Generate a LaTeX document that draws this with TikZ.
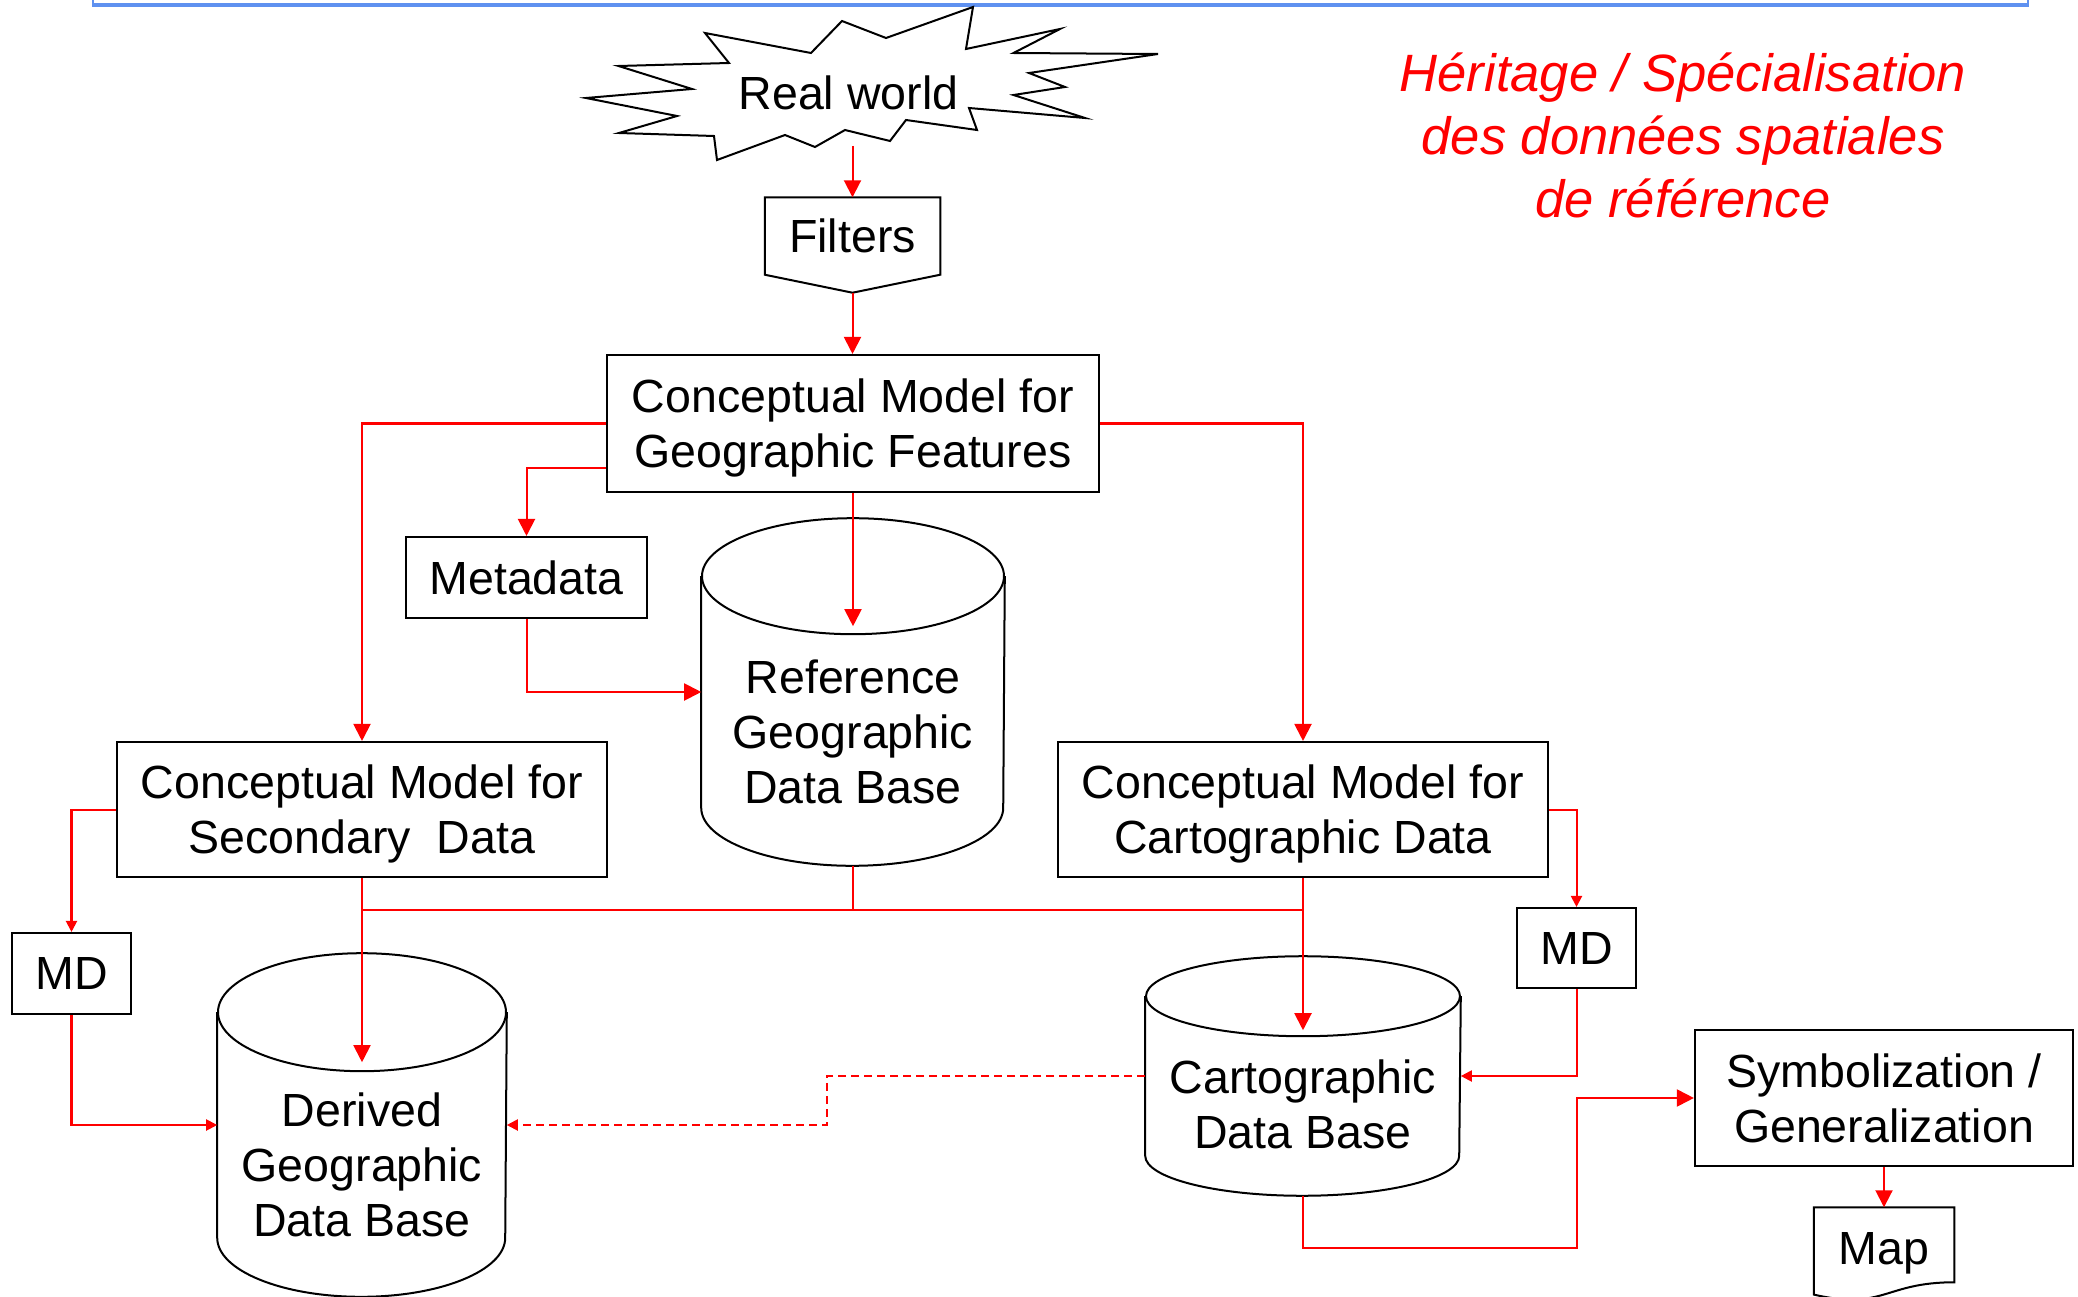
\documentclass[tikz,border=0pt]{standalone}
\usepackage{fontspec}
\setmainfont{Liberation Sans}
\usetikzlibrary{arrows.meta,calc}
\definecolor{frameblue}{RGB}{95,145,240}
\definecolor{linkred}{RGB}{255,0,0}
\newcommand\mycyl[3]{%
  \draw[oline] ($(#1.north)+(0,#3)$) ellipse [x radius=#2, y radius=#3];
  \draw[oline] ($(#1.north west)+(0,#3)$) -- ($(#1.south west)+(0,-#3)$) arc[start angle=180, end angle=0, x radius=#2, y radius=#3] -- ($(#1.north east)+(0,#3)$);}
\begin{document}
\begin{tikzpicture}[x=0.01cm,y=-0.01cm,
  oline/.style={draw=black,line width=0.02cm},
  boxtext/.style={font=\fontsize{13.23pt}{15.65pt}\selectfont, align=center, inner sep=0pt, text depth=0pt},
  cbox/.style={boxtext, oline, fill=white},
  cline/.style={draw=linkred, line width=0.02cm},
  arrbig/.style={cline, -{Triangle[length=0.17cm,width=0.17cm]}},
  arrsmall/.style={cline, -{Triangle[length=0.11cm,width=0.11cm]}},
]
\fill[white] (0,0) rectangle (2078,1297);
\useasboundingbox (0,0) rectangle (2078,1297);

% top frame edge
\draw[frameblue, line width=0.012cm] (93,0) -- (93,5) (2028,0) -- (2028,5);
\draw[frameblue, line width=0.035cm] (92,5) -- (2029,5);

% star
\draw[oline, fill=white] (973,7) -- (966,49) -- (1060,29) -- (1013.5,53) -- (1158,54) -- (1029,73) -- (1065,87) -- (1013.5,95) -- (1085,118) -- (969,108) -- (977,130) -- (906,120) -- (890,141) -- (845,130) -- (815,147) -- (785,135) -- (717,160) -- (714,136) -- (619,133) -- (677,116) -- (586,98) -- (692,89) -- (618.5,66) -- (729,63) -- (705,33) -- (811,53) -- (842,21) -- (886,38) -- cycle;
\node[boxtext] (realw) at (848.5,92.5) {Real world};

% red title
\node[text=linkred, font=\fontsize{14.94pt}{17.93pt}\selectfont\itshape, align=center, inner sep=0pt, text depth=0pt] (heritage) at (1683,135.6) {Héritage / Spécialisation\\des données spatiales\\de référence};

% filters
\node[boxtext, minimum width=1.74cm, minimum height=0.76cm] (filters) at (852.5,236) {Filters};
\draw[oline] (filters.north west) -- (filters.north east) -- (filters.south east) -- ($(filters.south)+(0,18)$) coordinate (filterstip) -- (filters.south west) -- cycle;

% boxes
\node[cbox, minimum width=4.92cm, minimum height=1.37cm] (cmgf) at (853,423.5) {Conceptual Model for\\Geographic Features};
\node[cbox, minimum width=2.41cm, minimum height=0.81cm] (meta) at (526.5,577.5) {Metadata};
\node[cbox, minimum width=4.90cm, minimum height=1.35cm] (cmsd) at (362,809.5) {Conceptual Model for\\Secondary\ \ Data};
\node[cbox, minimum width=4.90cm, minimum height=1.35cm] (cmcd) at (1303,809.5) {Conceptual Model for\\Cartographic Data};
\node[cbox, minimum width=1.19cm, minimum height=0.81cm] (mda) at (71.5,973.5) {MD};
\node[cbox, minimum width=1.19cm, minimum height=0.80cm] (mdb) at (1576.5,948) {MD};
\node[cbox, minimum width=3.78cm, minimum height=1.36cm] (symb) at (1884,1098) {Symbolization /\\Generalization};

% map (document shape)
\node[boxtext, minimum width=1.39cm, minimum height=0.80cm] (map) at (1884,1248) {Map};
\draw[oline] (map.north west) -- (map.north east) -- ($(map.north east)+(0,75)$) .. controls ($(map.north)+(0,75)$) and ($(map.north)+(0,103.5)$) .. ($(map.north west)+(0,87.3)$) -- cycle;

% cylinders
\node[inner sep=0pt, minimum width=3.02cm, minimum height=3.46cm] (rgdb) at (853,692) {};
\mycyl{rgdb}{151}{58}
\node[boxtext] (rgdbt) at (853,732) {Reference\\Geographic\\Data Base};

\node[inner sep=0pt, minimum width=2.88cm, minimum height=3.42cm] (dgdb) at (362,1125) {};
\mycyl{dgdb}{144}{59}
\node[boxtext] (dgdbt) at (362,1165) {Derived\\Geographic\\Data Base};

\node[inner sep=0pt, minimum width=3.14cm, minimum height=2.38cm] (cdb) at (1303,1076) {};
\mycyl{cdb}{157}{40}
\node[boxtext] (cdbt) at (1303,1104.5) {Cartographic\\Data Base};

% connectors
\coordinate (rwout) at (852.5,146);
\draw[arrbig] (rwout) -- (filters.north);
\draw[arrbig] (filterstip) -- (filterstip |- cmgf.north);
\draw[arrbig] (cmgf.west) -| (cmsd.north);
\draw[arrbig] ($(cmgf.south west)+(0,-25.5)$) -| (meta.north);
\draw[arrbig] (cmgf.south) -- ($(rgdb.north)+(0,108)$);
\draw[arrbig] (meta.south) |- (rgdb.west);
\draw[arrbig] (cmgf.east) -| (cmcd.north);
\coordinate (bus) at (853,910);
\draw[cline] (rgdb.south) -- (bus);
\draw[cline] (cmsd.south |- bus) -- (cmcd.south |- bus);
\draw[arrbig] (cmsd.south) -- ($(dgdb.north)+(0,109)$);
\draw[arrbig] (cmcd.south) -- ($(cdb.north)+(0,74)$);
\draw[arrsmall] (cmsd.west) -| (mda.north);
\draw[arrsmall] (mda.south) |- (dgdb.west);
\draw[arrsmall] (cmcd.east) -| (mdb.north);
\draw[arrsmall] (mdb.south) |- (cdb.east);
\coordinate (dashx) at (827,1100);
\draw[arrsmall, dash pattern=on 0.08cm off 0.05cm] (cdb.west) -- (cdb.west -| dashx) |- (dgdb.east);
\coordinate (route) at (1576.5,1248);
\draw[arrbig] (cdb.south) |- (route) |- (symb.west);
\draw[arrbig] (symb.south) -- (map.north);
\end{tikzpicture}
\end{document}
